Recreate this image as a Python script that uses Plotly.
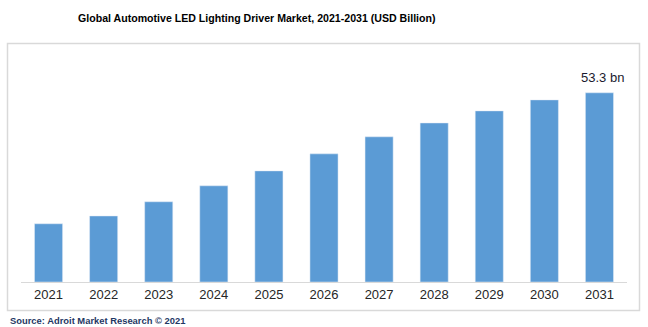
import plotly.graph_objects as go

years = ["2021", "2022", "2023", "2024", "2025", "2026", "2027", "2028", "2029", "2030", "2031"]
values = [16.4, 18.6, 22.6, 27.1, 31.3, 36.1, 40.9, 44.8, 48.2, 51.3, 53.3]
last_label = "53.3 bn"
title_text = "Global Automotive LED Lighting Driver Market, 2021-2031 (USD Billion)"
source_text = "Source: Adroit Market Research © 2021"

W, H = 648, 327
L, R, T, B = 21, 21, 69, 45
pw, ph = W - L - R, H - T - B

def px_x(px):
    return (px - L) / pw

def px_y(py):
    return (H - B - py) / ph

fig = go.Figure(go.Bar(x=years, y=values, marker_color="#5B9BD5", width=0.51))

fig.add_annotation(x=len(years) - 1, y=values[-1], text=last_label, showarrow=False,
                   yanchor="bottom", yshift=6, xshift=3,
                   font=dict(family="Arial, Liberation Sans", size=13, color="#1a1a2e"))

fig.add_annotation(xref="paper", yref="paper", x=px_x(256.5), y=px_y(18), text="<b>" + title_text + "</b>",
                   showarrow=False, xanchor="center", yanchor="middle",
                   font=dict(family="Arial, Liberation Sans", size=10.6, color="#000000"))

fig.add_annotation(xref="paper", yref="paper", x=px_x(8), y=px_y(320), text="<b>" + source_text + "</b>",
                   showarrow=False, xanchor="left", yanchor="middle",
                   font=dict(family="Arial, Liberation Sans", size=9.4, color="#1F3864"))

fig.add_shape(type="rect", xref="paper", yref="paper",
              x0=px_x(7.5), x1=px_x(639.5), y0=px_y(43.5), y1=px_y(310.5),
              line=dict(color="#D9D9D9", width=1.5), fillcolor="rgba(0,0,0,0)", layer="below")

fig.update_layout(
    width=W, height=H,
    margin=dict(l=L, r=R, t=T, b=B),
    paper_bgcolor="white", plot_bgcolor="white",
    showlegend=False,
    xaxis=dict(type="category", range=[-0.5, len(years) - 0.5], showline=True, linecolor="#D9D9D9",
               linewidth=1, showgrid=False, ticks="",
               tickfont=dict(family="Arial, Liberation Sans", size=13, color="#262626")),
    yaxis=dict(range=[0, 60], visible=False, showgrid=False),
)

fig.write_html("out.html")
